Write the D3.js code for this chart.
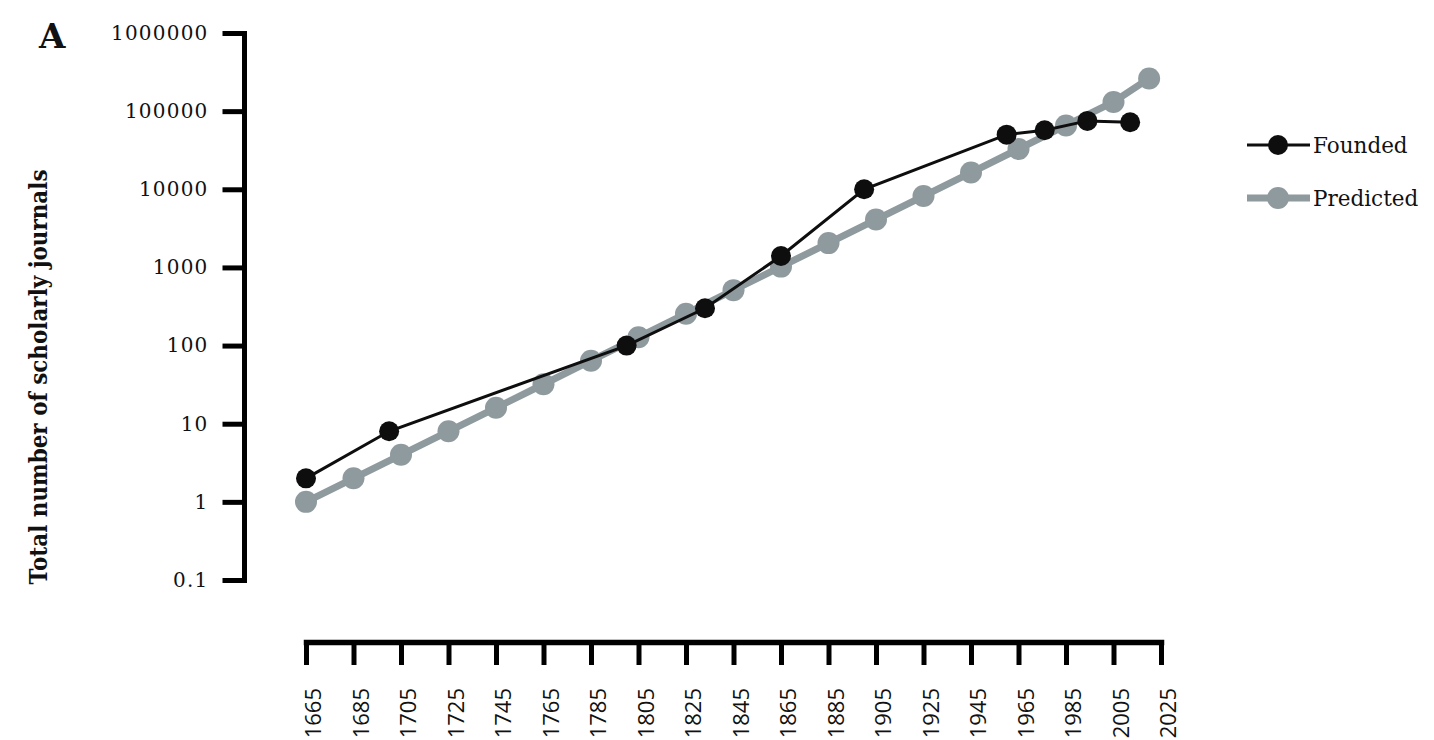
<!DOCTYPE html>
<html>
<head>
<meta charset="utf-8">
<script src="https://cdn.jsdelivr.net/npm/d3@7"></script>
<style>
  html, body { margin: 0; padding: 0; background: #fff; }
  svg { display: block; }
</style>
</head>
<body>
<svg id="chart" width="1434" height="740"></svg>
<script>
// ---- data ----
const foundedYears  = [1665, 1700, 1800, 1833, 1865, 1900, 1960, 1976, 1994, 2012];
const foundedValues = [2, 8, 100, 300, 1400, 10000, 50000, 57000, 75000, 72000];

const predictedYears  = [1665, 1685, 1705, 1725, 1745, 1765, 1785, 1805, 1825, 1845, 1865, 1885, 1905, 1925, 1945, 1965, 1985, 2005, 2020];
const predictedValues = [1, 2, 4, 8, 16, 32, 64, 128, 256, 512, 1024, 2048, 4096, 8192, 16384, 32768, 65536, 131072, 262144];

const xTickYears = [1665, 1685, 1705, 1725, 1745, 1765, 1785, 1805, 1825, 1845, 1865, 1885, 1905, 1925, 1945, 1965, 1985, 2005, 2025];
const yTickValues = [0.1, 1, 10, 100, 1000, 10000, 100000, 1000000];
const yTickLabels = ["0.1", "1", "10", "100", "1000", "10000", "100000", "1000000"];

const seriesNames = ["Founded", "Predicted"];
const yTitle = "Total number of scholarly journals";
const panelLabel = "A";

// ---- styles ----
const colFounded = "#0e0e0e";
const colPred = "#8e9a9e";

const svg = d3.select("#chart");

const x = d3.scaleLinear().domain([1665, 2025]).range([306, 1161]);
const y = d3.scaleLog().domain([0.1, 1000000]).range([580, 33]);

// ---- Y axis ----
const yAxis = d3.axisLeft(y)
  .tickValues(yTickValues)
  .tickFormat((d, i) => yTickLabels[i])
  .tickSize(21.5)
  .tickSizeOuter(0)
  .tickPadding(14);

const gy = svg.append("g").attr("transform", "translate(244,0)").call(yAxis);
gy.select(".domain").attr("stroke", "#000").attr("stroke-width", 5).attr("stroke-linecap", "square");
gy.selectAll(".tick line").attr("stroke", "#000").attr("stroke-width", 5);
gy.selectAll(".tick text")
  .attr("fill", "#111")
  .style("font-family", "'DejaVu Serif', serif")
  .style("font-size", "20px")
  .style("letter-spacing", "1.2px");

// ---- X axis ----
const xAxis = d3.axisBottom(x)
  .tickValues(xTickYears)
  .tickFormat(d3.format("d"))
  .tickSize(23)
  .tickSizeOuter(0);

const gx = svg.append("g").attr("transform", "translate(0,642)").call(xAxis);
gx.select(".domain").attr("stroke", "#000").attr("stroke-width", 5.5).attr("stroke-linecap", "square");
gx.selectAll(".tick line").attr("stroke", "#000").attr("stroke-width", 5);
gx.selectAll(".tick text")
  .attr("x", 0).attr("y", 0).attr("dy", "0.36em")
  .attr("transform", "translate(7,46) rotate(-90)")
  .style("text-anchor", "end")
  .attr("fill", "#111")
  .style("font-family", "'Open Sans', sans-serif")
  .style("font-size", "22px");

// ---- series ----
const predData = predictedYears.map((yr, i) => ({ yr, v: predictedValues[i] }));
const foundData = foundedYears.map((yr, i) => ({ yr, v: foundedValues[i] }));

const line = d3.line().x(d => x(d.yr)).y(d => y(d.v));

svg.append("path").datum(predData)
  .attr("d", line).attr("fill", "none")
  .attr("stroke", colPred).attr("stroke-width", 7);
svg.append("g").selectAll("circle").data(predData).join("circle")
  .attr("cx", d => x(d.yr)).attr("cy", d => y(d.v)).attr("r", 11)
  .attr("fill", colPred);

svg.append("path").datum(foundData)
  .attr("d", line).attr("fill", "none")
  .attr("stroke", colFounded).attr("stroke-width", 3);
svg.append("g").selectAll("circle").data(foundData).join("circle")
  .attr("cx", d => x(d.yr)).attr("cy", d => y(d.v)).attr("r", 10)
  .attr("fill", colFounded);

// ---- Legend ----
const legend = svg.append("g");
const legItems = [
  { name: seriesNames[0], color: colFounded, lw: 3, r: 10, cy: 145 },
  { name: seriesNames[1], color: colPred, lw: 7, r: 11, cy: 198 }
];
legItems.forEach(it => {
  legend.append("line").attr("x1", 1247).attr("x2", 1310).attr("y1", it.cy).attr("y2", it.cy)
    .attr("stroke", it.color).attr("stroke-width", it.lw);
  legend.append("circle").attr("cx", 1278).attr("cy", it.cy).attr("r", it.r).attr("fill", it.color);
  legend.append("text").attr("x", 1313).attr("y", it.cy + 8)
    .text(it.name)
    .attr("fill", "#111")
    .style("font-family", "'DejaVu Serif', serif")
    .style("font-size", "21.5px");
});

// ---- Y title ----
svg.append("text")
  .attr("transform", "translate(47,377) rotate(-90)")
  .attr("text-anchor", "middle")
  .attr("textLength", 415)
  .attr("lengthAdjust", "spacingAndGlyphs")
  .attr("fill", "#111")
  .style("font-family", "'DejaVu Serif', serif")
  .style("font-weight", "bold")
  .style("font-size", "23.5px")
  .text(yTitle);

// ---- Panel label ----
svg.append("text")
  .attr("x", 39).attr("y", 48)
  .attr("fill", "#111")
  .style("font-family", "'DejaVu Serif', serif")
  .style("font-weight", "bold")
  .style("font-size", "34px")
  .text(panelLabel);
</script>
</body>
</html>
